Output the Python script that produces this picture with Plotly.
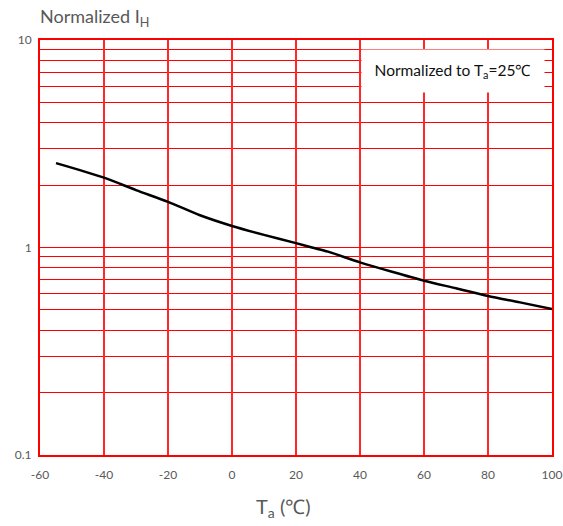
import plotly.graph_objects as go

temps = [-55, -40, -30, -20, -10, 0, 10, 20, 25, 30, 40, 50, 60, 70, 80, 90, 100]
ih_norm = [2.55, 2.17, 1.89, 1.66, 1.43, 1.27, 1.15, 1.05, 1.0, 0.955, 0.848, 0.764, 0.692, 0.636, 0.584, 0.544, 0.505]

x_ticks = [-60, -40, -20, 0, 20, 40, 60, 80, 100]
y_ticks = [0.1, 1, 10]
y_minor = [m * d for d in (0.1, 1) for m in range(2, 10)]

FONT = "Lato, Open Sans, sans-serif"
GRAY = "#595959"
RED = "rgb(255,0,0)"

fig = go.Figure()
fig.add_trace(go.Scatter(x=temps, y=ih_norm, mode="lines",
                         line=dict(color="black", width=2.5, shape="spline", smoothing=0.8),
                         showlegend=False, hoverinfo="skip"))

fig.update_layout(
    width=563, height=526, autosize=False,
    margin=dict(l=40, r=11, t=40, b=71),
    paper_bgcolor="white", plot_bgcolor="white",
    font=dict(family=FONT, color=GRAY, size=12),
    xaxis=dict(range=[-60, 100], tickvals=x_ticks, ticktext=[str(v) for v in x_ticks],
               automargin=False,
               showgrid=True, gridcolor="rgb(255,40,40)", gridwidth=2, zeroline=False,
               showline=True, linecolor=RED, linewidth=2, mirror=True,
               ticks="", ticklabelstandoff=8, tickfont=dict(size=12, color=GRAY, family=FONT)),
    yaxis=dict(type="log", range=[-1, 1], tickvals=y_ticks, ticktext=["0.1", "1", "10"],
               automargin=False,
               showgrid=True, gridcolor=RED, gridwidth=1.3, zeroline=False,
               showline=True, linecolor=RED, linewidth=2, mirror=True,
               ticks="", ticklabelstandoff=4, tickfont=dict(size=12, color=GRAY, family=FONT),
               minor=dict(tickvals=y_minor, showgrid=True, gridcolor=RED, gridwidth=1.3, ticks="")),
    annotations=[
        dict(text="Normalized I<sub>H</sub>", xref="paper", yref="paper",
             x=-0.004, y=1.0, yshift=8, xanchor="left", yanchor="bottom", showarrow=False,
             font=dict(size=18, color=GRAY, family=FONT)),
        dict(text="T<sub>a</sub> (℃)", xref="paper", yref="paper",
             x=0.475, y=0, yshift=-37, xanchor="center", yanchor="top", showarrow=False,
             font=dict(size=20, color=GRAY, family=FONT)),
        dict(text="Normalized to T<sub>a</sub>=25℃", xref="paper", yref="paper",
             x=0.807, y=0.925, xanchor="center", yanchor="middle", showarrow=False,
             bgcolor="white", borderpad=8, width=166, height=26,
             font=dict(size=15.5, color="#111111", family=FONT)),
    ],
)

fig.write_html(
    "out.html",
    config={"responsive": False, "displayModeBar": False},
    post_script="document.body.style.margin='0';document.body.style.overflow='hidden';",
)
